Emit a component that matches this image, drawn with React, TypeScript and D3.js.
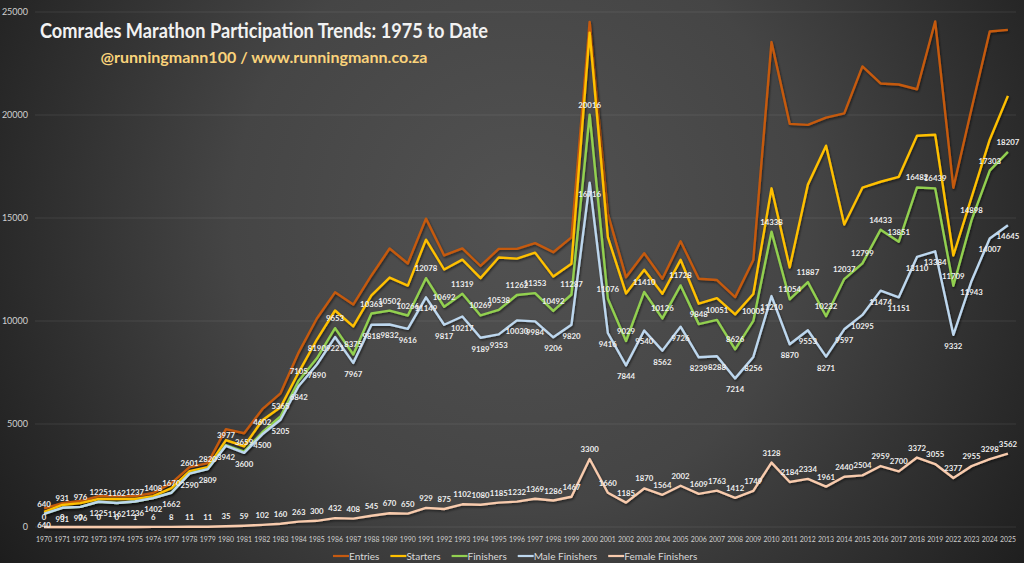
import { useEffect, useRef } from 'react';
import * as d3 from 'd3';

const years = [
  '1970', '1971', '1972', '1973', '1974', '1975', '1976', '1977', '1978', '1979',
  '1980', '1981', '1982', '1983', '1984', '1985', '1986', '1987', '1988', '1989',
  '1990', '1991', '1992', '1993', '1994', '1995', '1996', '1997', '1998', '1999',
  '2000', '2001', '2002', '2003', '2004', '2005', '2006', '2007', '2008', '2009',
  '2010', '2011', '2012', '2013', '2014', '2015', '2016', '2017', '2018', '2019',
  '2022', '2023', '2024', '2025',
];

// entries and starters are not labelled in the source, values estimated from the lines
const entries = [
  900, 1160, 1260, 1500, 1500, 1500, 1650, 2130, 2910, 3100,
  4750, 4550, 5720, 6490, 8480, 10120, 11390, 10800, 12210, 13520,
  12790, 14970, 13180, 13520, 12670, 13500, 13500, 13780, 13340, 14060,
  24520, 15200, 12120, 13290, 12050, 13870, 12050, 11990, 11160, 12960,
  23540, 19570, 19520, 19870, 20080, 22360, 21530, 21480, 21250, 24540,
  16470, 20300, 24050, 24130,
];

const starters = [
  730, 1070, 1160, 1360, 1360, 1360, 1500, 1890, 2710, 2910,
  4220, 3920, 5180, 5810, 7510, 9100, 10510, 9740, 11240, 12110,
  11720, 13950, 12500, 12980, 12080, 13080, 13030, 13320, 12160, 12780,
  24000, 14070, 11340, 12490, 11320, 12970, 10840, 11110, 10320, 11310,
  16440, 12600, 16620, 18510, 14680, 16470, 16760, 17000, 18990, 19040,
  13180, 16000, 18800, 20930,
];

const finishers = [
  640, 931, 976, 1225, 1162, 1237, 1408, 1670, 2601, 2820,
  3977, 3659, 4602, 5365, 7105, 8190, 9653, 8375, 10363, 10502,
  10266, 12078, 10692, 11319, 10269, 10538, 11262, 11353, 10492, 11287,
  20016, 11076, 9029, 11410, 10126, 11728, 9848, 10051, 8626, 10005,
  14338, 11054, 11887, 10232, 12037, 12799, 14433, 13851, 16482, 16439,
  11709, 14898, 17303, 18207,
];

const maleFinishers = [
  640, 931, 976, 1225, 1162, 1236, 1402, 1662, 2590, 2809,
  3942, 3600, 4500, 5205, 6842, 7890, 9221, 7967, 9818, 9832,
  9616, 11149, 9817, 10217, 9189, 9353, 10030, 9984, 9206, 9820,
  16716, 9416, 7844, 9540, 8562, 9726, 8239, 8288, 7214, 8256,
  11210, 8870, 9553, 8271, 9597, 10295, 11474, 11151, 13110, 13384,
  9332, 11943, 14007, 14645,
];

const femaleFinishers = [
  0, 0, 0, 0, 0, 1, 6, 8, 11, 11,
  35, 59, 102, 160, 263, 300, 432, 408, 545, 670,
  650, 929, 875, 1102, 1080, 1185, 1232, 1369, 1286, 1467,
  3300, 1660, 1185, 1870, 1564, 2002, 1609, 1763, 1412, 1749,
  3128, 2184, 2334, 1961, 2440, 2504, 2959, 2700, 3372, 3055,
  2377, 2955, 3298, 3562,
];

const yTicks = [0, 5000, 10000, 15000, 20000, 25000];

const series = [
  { name: 'Entries', values: entries, color: '#c55a11', label: null },
  { name: 'Starters', values: starters, color: '#ffc000', label: null },
  { name: 'Finishers', values: finishers, color: '#92d050', label: 'above' },
  { name: 'Male Finishers', values: maleFinishers, color: '#bdd7ee', label: 'below' },
  { name: 'Female Finishers', values: femaleFinishers, color: '#f8cbad', label: 'above' },
];

export default function App() {
  const svgRef = useRef<SVGSVGElement>(null);

  useEffect(() => {
    if (!svgRef.current) return;
    const svg = d3.select(svgRef.current);
    svg.selectAll('*').remove();

    const width = 1024;
    const height = 563;
    const font = 'Lato, "Open Sans", sans-serif';
    svg.attr('width', width).attr('height', height);

    const defs = svg.append('defs');
    const grad = defs.append('radialGradient')
      .attr('id', 'bg')
      .attr('gradientUnits', 'userSpaceOnUse')
      .attr('cx', 520).attr('cy', 220).attr('r', 640);
    grad.append('stop').attr('offset', '0%').attr('stop-color', '#525252');
    grad.append('stop').attr('offset', '45%').attr('stop-color', '#454545');
    grad.append('stop').attr('offset', '100%').attr('stop-color', '#1b1b1b');

    const shadow = defs.append('filter').attr('id', 'shadow')
      .attr('x', '-5%').attr('y', '-5%').attr('width', '110%').attr('height', '110%');
    shadow.append('feDropShadow')
      .attr('dx', 1).attr('dy', 1.5).attr('stdDeviation', 1)
      .attr('flood-color', '#000').attr('flood-opacity', 0.55);

    svg.append('rect').attr('width', width).attr('height', height).attr('fill', 'url(#bg)');

    const x = d3.scalePoint<string>().domain(years).range([35, 1017]).padding(0.5);
    const y = d3.scaleLinear().domain([0, 25000]).range([527, 12]);

    // gridlines
    svg.append('g')
      .selectAll('line')
      .data(yTicks)
      .enter()
      .append('line')
      .attr('x1', 35).attr('x2', 1016)
      .attr('y1', d => y(d)).attr('y2', d => y(d))
      .attr('stroke', 'rgba(255,255,255,0.09)')
      .attr('stroke-width', 1);

    // y labels
    svg.append('g')
      .selectAll('text')
      .data(yTicks)
      .enter()
      .append('text')
      .attr('x', 28)
      .attr('y', d => y(d))
      .attr('dy', '0.35em')
      .attr('text-anchor', 'end')
      .attr('font-family', font)
      .attr('font-size', 9)
      .attr('fill', '#d0d0d0')
      .text(d => String(d));

    // x labels (squeezed like the narrow source font)
    svg.append('g')
      .selectAll('text')
      .data(years)
      .enter()
      .append('text')
      .attr('x', d => x(d) || 0)
      .attr('y', 542)
      .attr('text-anchor', 'middle')
      .attr('font-family', font)
      .attr('font-size', 8.4)
      .attr('fill', '#d0d0d0')
      .attr('textLength', 16)
      .attr('lengthAdjust', 'spacingAndGlyphs')
      .text(d => d);

    const line = d3.line<number>()
      .x((_, i) => x(years[i]) || 0)
      .y(d => y(d));

    // lines
    series.forEach(s => {
      svg.append('path')
        .datum(s.values)
        .attr('d', line)
        .attr('fill', 'none')
        .attr('stroke', s.color)
        .attr('stroke-width', 2.4)
        .attr('stroke-linejoin', 'round')
        .attr('filter', 'url(#shadow)');
    });

    // data labels
    series.forEach(s => {
      if (!s.label) return;
      svg.append('g')
        .selectAll('text')
        .data(s.values)
        .enter()
        .append('text')
        .attr('x', (_, i) => x(years[i]) || 0)
        .attr('y', d => (s.label === 'above' ? y(d) - 7 : y(d) + 14))
        .attr('text-anchor', 'middle')
        .attr('font-family', font)
        .attr('font-weight', 700)
        .attr('font-size', 7.8)
        .attr('fill', '#eeeeee')
        .text(d => String(d));
    });

    // title
    svg.append('text')
      .attr('x', 264).attr('y', 38)
      .attr('text-anchor', 'middle')
      .attr('font-family', font)
      .attr('font-weight', 700)
      .attr('font-size', 20)
      .attr('fill', '#f2f2f2')
      .attr('textLength', 448)
      .attr('lengthAdjust', 'spacingAndGlyphs')
      .text('Comrades Marathon Participation Trends: 1975 to Date');

    svg.append('text')
      .attr('x', 264).attr('y', 63)
      .attr('text-anchor', 'middle')
      .attr('font-family', font)
      .attr('font-weight', 700)
      .attr('font-size', 15)
      .attr('fill', '#fad37b')
      .attr('textLength', 327)
      .attr('lengthAdjust', 'spacingAndGlyphs')
      .text('@runningmann100 / www.runningmann.co.za');

    // legend
    const legend = svg.append('g');
    let lx = 333;
    series.forEach(s => {
      legend.append('line')
        .attr('x1', lx).attr('x2', lx + 16)
        .attr('y1', 556).attr('y2', 556)
        .attr('stroke', s.color)
        .attr('stroke-width', 2.2);
      const t = legend.append('text')
        .attr('x', lx + 16)
        .attr('y', 559.5)
        .attr('font-family', font)
        .attr('font-size', 10)
        .attr('fill', '#d9d9d9')
        .text(s.name);
      const w = (t.node() as SVGTextElement).getComputedTextLength();
      lx += 16 + w + 11;
    });
  }, []);

  return (
    <svg
      ref={svgRef}
      style={{ position: 'absolute', left: 0, top: 0, display: 'block' }}
    ></svg>
  );
}
